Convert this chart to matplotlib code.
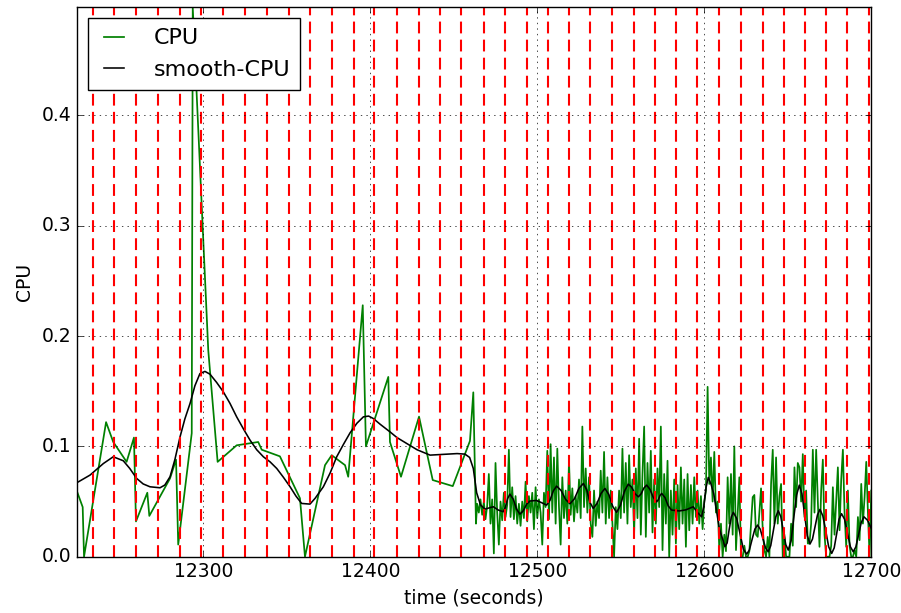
import numpy as np
import matplotlib
matplotlib.use("Agg")
import matplotlib.pyplot as plt
from matplotlib.ticker import MultipleLocator, ScalarFormatter

plt.style.use("classic")
plt.rcParams["lines.scale_dashes"] = False
plt.rcParams["font.size"] = 13.5

# irregular samples before the collector switched to 1 s polling
cpu_t_sparse = [12224.2, 12227.8, 12228.6, 12241.8, 12246.1, 12254.1, 12258.5, 12259.7, 12266.5, 12267.7,
                12280.1, 12283.7, 12285.0, 12293.1, 12293.7, 12303.0, 12308.6, 12320.0, 12332.9, 12335.0,
                12345.9, 12357.9, 12360.9, 12372.9, 12376.9, 12384.9, 12386.8, 12395.5, 12397.4, 12410.8,
                12411.8, 12418.4, 12429.2, 12437.4, 12449.4, 12459.7, 12461.7, 12463.3]
cpu_sparse = [0.060, 0.045, 0.000, 0.122, 0.104, 0.086, 0.108, 0.032, 0.058, 0.037,
              0.071, 0.088, 0.011, 0.112, 0.498, 0.187, 0.086, 0.101, 0.104, 0.097,
              0.091, 0.053, 0.000, 0.083, 0.092, 0.083, 0.0725, 0.228, 0.100, 0.163,
              0.104, 0.0725, 0.127, 0.0695, 0.064, 0.105, 0.149, 0.030]

# 1 s samples from 12464 s on
dense_start = 12464
cpu_dense = [
    0.048, 0.040, 0.052, 0.038, 0.050, 0.034, 0.046, 0.075, 0.030, 0.052,
    0.003, 0.085, 0.040, 0.011, 0.050, 0.033, 0.058, 0.036, 0.047, 0.097,
    0.036, 0.063, 0.034, 0.055, 0.030, 0.048, 0.028, 0.050, 0.035, 0.068,
    0.032, 0.055, 0.040, 0.058, 0.025, 0.063, 0.035, 0.052, 0.040, 0.011,
    0.058, 0.045, 0.096, 0.034, 0.102, 0.040, 0.090, 0.030, 0.098, 0.045,
    0.011, 0.072, 0.035, 0.060, 0.030, 0.087, 0.038, 0.062, 0.032, 0.055,
    0.040, 0.070, 0.035, 0.118, 0.045, 0.080, 0.040, 0.072, 0.030, 0.018,
    0.060, 0.028, 0.050, 0.035, 0.078, 0.040, 0.095, 0.030, 0.072, 0.035,
    0.060, 0.030, 0.000, 0.045, 0.025, 0.060, 0.035, 0.098, 0.040, 0.085,
    0.030, 0.092, 0.045, 0.070, 0.021, 0.080, 0.035, 0.107, 0.020, 0.075,
    0.118, 0.018, 0.085, 0.040, 0.096, 0.022, 0.070, 0.030, 0.080, 0.045,
    0.118, 0.006, 0.075, 0.030, 0.087, 0.000, 0.060, 0.020, 0.070, 0.012,
    0.065, 0.025, 0.081, 0.030, 0.070, 0.009, 0.075, 0.024, 0.065, 0.030,
    0.072, 0.036, 0.060, 0.030, 0.055, 0.025, 0.050, 0.060, 0.154, 0.066,
    0.090, 0.050, 0.095, 0.040, 0.050, 0.006, 0.030, 0.000, 0.020, 0.005,
    0.072, 0.030, 0.075, 0.020, 0.100, 0.006, 0.040, 0.072, 0.000, 0.000,
    0.010, 0.000, 0.000, 0.005, 0.030, 0.054, 0.056, 0.020, 0.018, 0.040,
    0.062, 0.025, 0.006, 0.000, 0.018, 0.000, 0.066, 0.097, 0.030, 0.090,
    0.030, 0.055, 0.066, 0.000, 0.020, 0.000, 0.000, 0.000, 0.030, 0.010,
    0.081, 0.045, 0.085, 0.081, 0.050, 0.093, 0.036, 0.060, 0.012, 0.012,
    0.030, 0.097, 0.040, 0.097, 0.050, 0.009, 0.060, 0.088, 0.020, 0.000,
    0.000, 0.000, 0.010, 0.063, 0.020, 0.050, 0.081, 0.024, 0.070, 0.097,
    0.040, 0.009, 0.060, 0.010, 0.000, 0.000, 0.006, 0.000, 0.036, 0.015,
    0.066, 0.030, 0.054, 0.086, 0.040, 0.000, 0.060,
]

smooth_t = [
    12224.2, 12232.2, 12240.2, 12246.1, 12252.1, 12256.0, 12260.1, 12264.0, 12268.1, 12274.1,
    12277.0, 12280.1, 12283.0, 12286.1, 12289.0, 12292.1, 12295.0, 12298.0, 12301.0, 12304.0,
    12308.0, 12312.0, 12316.0, 12320.0, 12324.0, 12328.0, 12332.0, 12336.0, 12340.0, 12344.0,
    12348.0, 12352.0, 12355.5, 12358.9, 12363.9, 12367.0, 12371.9, 12376.0, 12379.9, 12384.0,
    12387.9, 12392.0, 12395.9, 12399.0, 12401.8, 12406.0, 12411.8, 12416.0, 12421.8, 12428.0,
    12435.8, 12445.7, 12452.0, 12456.7, 12459.5, 12461.7, 12463.7, 12466.0, 12468.7, 12471.2,
    12473.7, 12476.7, 12479.6, 12480.9, 12482.3, 12483.6, 12485.6, 12487.6, 12489.6, 12491.6,
    12493.6, 12495.6, 12499.6, 12502.6, 12505.6, 12507.6, 12509.6, 12511.6, 12514.3, 12516.9,
    12519.6, 12522.3, 12524.9, 12527.6, 12529.6, 12531.5, 12533.5, 12535.8, 12538.2, 12540.5,
    12542.8, 12545.2, 12547.5, 12549.8, 12552.2, 12554.5, 12556.5, 12558.5, 12560.5, 12562.2,
    12563.8, 12565.5, 12567.5, 12569.5, 12571.5, 12572.5, 12573.5, 12574.5, 12576.5, 12578.4,
    12580.4, 12585.0, 12589.0, 12593.4, 12596.0, 12598.4, 12599.7, 12601.1, 12602.4, 12604.0,
    12605.7, 12609.1, 12612.4, 12613.7, 12614.9, 12616.2, 12617.4, 12619.4, 12621.4, 12623.4,
    12625.4, 12627.0, 12628.6, 12630.3, 12631.9, 12633.5, 12635.1, 12636.7, 12638.3, 12639.8,
    12641.3, 12642.8, 12644.3, 12645.8, 12647.3, 12648.8, 12650.3, 12652.0, 12653.6, 12655.3,
    12656.9, 12658.5, 12660.1, 12661.7, 12663.3, 12664.8, 12666.3, 12667.8, 12669.3, 12671.0,
    12672.8, 12674.5, 12676.3, 12677.8, 12679.3, 12680.7, 12682.2, 12684.0, 12685.7, 12687.5,
    12689.2, 12690.8, 12692.4, 12694.0, 12695.6, 12697.8, 12700.0,
]
smooth_cpu = [
    0.067, 0.074, 0.0845, 0.0906, 0.087, 0.080, 0.071, 0.066, 0.0634, 0.0625,
    0.065, 0.0725, 0.088, 0.1087, 0.125, 0.139, 0.155, 0.166, 0.168, 0.1655,
    0.158, 0.1495, 0.139, 0.1268, 0.116, 0.1057, 0.097, 0.0906, 0.086, 0.080,
    0.072, 0.0634, 0.055, 0.0483, 0.0477, 0.053, 0.0634, 0.076, 0.0906, 0.102,
    0.1123, 0.121, 0.1268, 0.1275, 0.1253, 0.120, 0.1132, 0.108, 0.1027, 0.097,
    0.0921, 0.093, 0.0935, 0.093, 0.090, 0.080, 0.058, 0.047, 0.0432, 0.0442,
    0.0453, 0.0423, 0.0408, 0.0448, 0.0528, 0.0568, 0.0522, 0.0432, 0.0386, 0.0416,
    0.0475, 0.0505, 0.051, 0.049, 0.0468, 0.0511, 0.0597, 0.064, 0.060, 0.052,
    0.048, 0.0526, 0.0618, 0.0664, 0.0608, 0.0494, 0.0438, 0.0483, 0.0574, 0.0619,
    0.0565, 0.0456, 0.0402, 0.0466, 0.0594, 0.0658, 0.063, 0.0572, 0.0543, 0.057,
    0.0622, 0.0649, 0.0611, 0.0536, 0.0498, 0.0517, 0.0555, 0.0574, 0.0536, 0.0461,
    0.0423, 0.0415, 0.0425, 0.0453, 0.040, 0.0362, 0.0451, 0.063, 0.0719, 0.066,
    0.057, 0.025, 0.0091, 0.0125, 0.0246, 0.036, 0.0402, 0.0347, 0.021, 0.0068,
    0.0024, 0.006, 0.0155, 0.025, 0.0287, 0.025, 0.0166, 0.008, 0.0045, 0.010,
    0.023, 0.036, 0.0417, 0.0365, 0.0238, 0.011, 0.006, 0.0146, 0.0355, 0.056,
    0.0649, 0.057, 0.038, 0.019, 0.0115, 0.016, 0.027, 0.038, 0.0429, 0.037,
    0.023, 0.009, 0.003, 0.008, 0.021, 0.034, 0.039, 0.034, 0.022, 0.009,
    0.0045, 0.009, 0.020, 0.031, 0.0362, 0.033, 0.0257,
]

# window boundaries used by the segmenter
window_edges = [
    12233.8, 12246.5, 12259.7, 12272.9, 12286.1, 12298.8, 12312.0, 12324.8, 12338.0, 12351.1,
    12363.9, 12377.1, 12390.2, 12402.2, 12415.8, 12429.0, 12441.7, 12454.5, 12468.1, 12480.8,
    12493.7, 12506.4, 12518.8, 12531.6, 12544.7, 12557.9, 12570.7, 12583.1, 12595.8, 12608.6,
    12621.8, 12635.0, 12647.7, 12660.1, 12672.9, 12685.6, 12698.8,
]

t = np.concatenate([cpu_t_sparse, dense_start + np.arange(len(cpu_dense))])
cpu = np.concatenate([cpu_sparse, cpu_dense])

fig = plt.figure(figsize=(9.01, 6.13), dpi=100)
ax = fig.add_axes([0.0851, 0.0918, 0.967 - 0.0851, 0.988 - 0.0918])

ax.plot(t, cpu, color="g", lw=1.25, label="CPU")
ax.plot(smooth_t, smooth_cpu, color="k", lw=1.15, label="smooth-CPU")
for edge in window_edges:
    ax.axvline(edge, color="r", lw=1.5, dashes=(8.5, 4.5))

ax.set_xlim(t[0], t[-1])
ax.set_ylim(0, cpu.max())
ax.xaxis.set_major_locator(MultipleLocator(100))
ax.yaxis.set_major_locator(MultipleLocator(0.1))
ax.xaxis.set_major_formatter(ScalarFormatter(useOffset=False))
ax.grid(True)

ax.set_xlabel("time (seconds)")
ax.set_ylabel("CPU")
ax.legend(loc="upper left", fontsize=16, handlelength=1.5, handletextpad=1.0,
          labelspacing=0.5, borderpad=0.45, borderaxespad=0.5)

fig.savefig("out.png", dpi=100, facecolor="white")
